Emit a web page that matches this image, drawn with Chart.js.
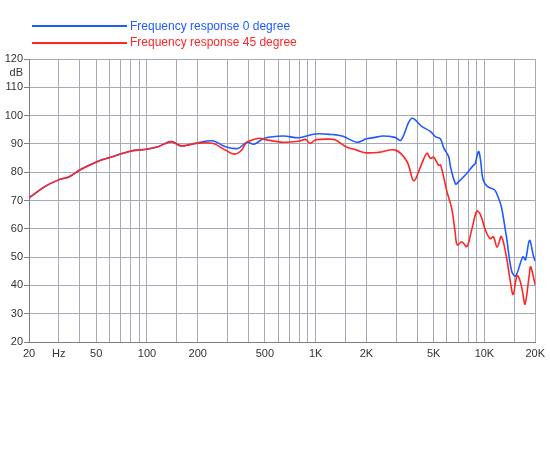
<!DOCTYPE html>
<html>
<head>
<meta charset="utf-8">
<script src="https://cdn.jsdelivr.net/npm/chart.js@4/dist/chart.umd.min.js"></script>
<style>
  html, body { margin:0; padding:0; background:#fff; }
  #wrap { position:relative; width:550px; height:450px; }
  canvas { position:absolute; left:0; top:0; }
  .lg { position:absolute; font-family: Arial, "Liberation Sans", sans-serif; font-size:12px; line-height:14px; white-space:nowrap; }
  .ln { position:absolute; height:2px; }
</style>
</head>
<body>
<div id="wrap">
  <canvas id="c" width="550" height="450"></canvas>
  <div class="ln" id="l0" style="left:32px; top:25px; width:95px;"></div>
  <div class="lg" id="t0" style="left:130px; top:19px;"></div>
  <div class="ln" id="l1" style="left:32px; top:42px; width:95px;"></div>
  <div class="lg" id="t1" style="left:130px; top:35px;"></div>
</div>
<script>
const seriesNames = ["Frequency response 0 degree", "Frequency response 45 degree"];
const seriesColors = ["#1f5bff", "#ff2626"];

const freq0 = [20,21.2,24.8,29.7,34.6,40,50.6,61,80.7,96.8,116,139,160,195,245,292,346,392,431,497,640,800,994,1250,1450,1756,2000,2250,2500,2950,3200,3700,4270,4780,5120,5480,5750,6140,6300,6750,7000,7700,8620,8800,9230,9500,9800,10400,11500,12000,12600,13500,14500,15300,16900,17500,18500,19500,20000];
const db0   = [71.0,72.0,74.9,77.2,78.4,80.8,83.7,85.3,87.5,88.0,89.0,90.8,89.3,90.2,91.1,89.0,88.4,90.6,89.9,92.0,92.8,92.2,93.5,93.3,92.7,90.6,91.8,92.3,92.8,92.3,91.3,99.0,96.1,94.4,92.6,91.8,88.5,85.5,81.8,75.8,76.5,79.0,82.5,82.9,87.3,84.0,77.5,75.0,73.7,71.5,67.8,57.2,45.0,43.3,50.1,49.0,55.9,50.5,48.5];

const freq45 = [20,21.2,24.8,29.7,34.6,40,50.6,61,80.7,96.8,116,139,160,195,245,292,329,360,392,464,497,640,800,870,930,994,1195,1312,1510,1755,1965,2355,2970,3480,3810,4180,4560,4780,5000,5350,5500,6000,6400,6700,6900,7350,7870,8420,9000,9440,10100,10800,11300,11900,12600,13500,14200,14800,15600,16200,16800,17400,18400,18800,20000];
const db45   = [71.0,72.0,74.9,77.2,78.4,80.8,83.7,85.3,87.5,88.0,89.0,90.8,89.3,90.2,90.2,87.8,86.4,87.5,90.6,92.0,91.6,90.6,91.0,91.6,90.2,91.4,91.7,91.4,89.0,87.8,86.9,87.0,87.8,83.7,77.0,81.9,86.7,84.9,85.3,82.5,82.5,73.1,67.2,59.0,54.3,55.4,53.7,59.8,66.2,65.2,59.8,56.5,57.2,53.5,57.3,50.1,41.9,36.8,43.5,42.0,38.0,33.4,43.2,46.6,40.1];

const xGrid = [20,30,40,50,60,70,80,90,100,150,200,300,400,500,600,700,800,900,1000,1500,2000,3000,4000,5000,6000,7000,8000,9000,10000,15000,20000];
const xLabels = {20:"20",30:"Hz",50:"50",100:"100",200:"200",500:"500",1000:"1K",2000:"2K",5000:"5K",10000:"10K",20000:"20K"};
const yTicks = [20,30,40,50,60,70,80,90,100,110,115,120];
const yLabels = {115:"dB"};

// legend (HTML text)
document.getElementById('l0').style.background = seriesColors[0];
document.getElementById('l1').style.background = seriesColors[1];
document.getElementById('t0').textContent = seriesNames[0];
document.getElementById('t1').textContent = seriesNames[1];
document.getElementById('t0').style.color = seriesColors[0];
document.getElementById('t1').style.color = seriesColors[1];

const gridColor = '#a6aab6';
const font = { family: 'Arial, "Liberation Sans", sans-serif', size: 11 };

new Chart(document.getElementById('c'), {
  type: 'line',
  data: {
    datasets: [
      { label: seriesNames[1], data: freq45.map((f,i)=>({x:f, y:db45[i]})), borderColor: seriesColors[1], borderWidth: 1.6, pointRadius: 0, tension: 0.35, fill: false },
      { label: seriesNames[0], data: freq0.map((f,i)=>({x:f, y:db0[i]})), borderColor: seriesColors[0], borderWidth: 1.6, pointRadius: 0, tension: 0.35, fill: false }
    ]
  },
  options: {
    responsive: false,
    animation: false,
    layout: { padding: { left: 0, right: 14, top: 59, bottom: 0 } },
    plugins: { legend: { display: false }, tooltip: { enabled: false } },
    scales: {
      x: {
        type: 'logarithmic',
        min: 20, max: 20000,
        afterBuildTicks: s => { s.ticks = xGrid.map(v => ({ value: v })); },
        afterFit: s => { s.height = 108; },
        grid: { color: gridColor, lineWidth: 1, drawTicks: false },
        border: { color: '#7d7f86', width: 1 },
        ticks: {
          autoSkip: false, maxRotation: 0, padding: 5, color: '#333', font: font,
          callback: (v) => (xLabels[v] !== undefined ? xLabels[v] : '')
        }
      },
      y: {
        type: 'linear',
        min: 20, max: 120,
        afterBuildTicks: s => { s.ticks = yTicks.map(v => ({ value: v })); },
        afterFit: s => { s.width = 29; },
        grid: {
          color: c => (c.tick && c.tick.value === 115 ? 'rgba(0,0,0,0)' : gridColor),
          tickColor: c => (c.tick && c.tick.value === 115 ? 'rgba(0,0,0,0)' : '#7d7f86'),
          tickLength: 5, lineWidth: 1
        },
        border: { color: '#7d7f86', width: 1 },
        ticks: {
          padding: 1, color: '#333', font: font,
          callback: (v) => (yLabels[v] !== undefined ? yLabels[v] : String(v))
        }
      }
    }
  }
});
</script>
</body>
</html>
